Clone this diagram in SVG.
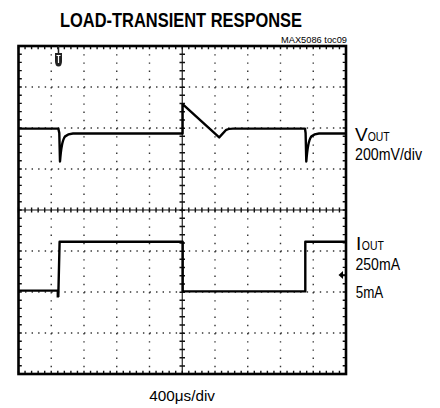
<svg xmlns="http://www.w3.org/2000/svg" width="440" height="408" viewBox="0 0 440 408">
<style>
.t{font-family:"Liberation Sans",Arial,sans-serif;fill:#000}
.v{stroke:#333;stroke-width:1.4;stroke-dasharray:1.4 6.8;fill:none}
.h{stroke:#333;stroke-width:1.4;stroke-dasharray:1.4 5.15;fill:none}
.tr{fill:none;stroke:#000;stroke-width:2.4;stroke-linejoin:round}
</style>
<rect width="440" height="408" fill="#fff"/>
<text class="t" x="60" y="26.7" font-size="19.5" font-weight="bold" textLength="242" lengthAdjust="spacingAndGlyphs">LOAD-TRANSIENT RESPONSE</text>
<text class="t" x="347" y="42.7" font-size="9.5" text-anchor="end" textLength="66" lengthAdjust="spacingAndGlyphs">MAX5086 toc09</text>
<g id="grid">
<g class="v">
<line x1="51.25" y1="46" x2="51.25" y2="374"/>
<line x1="84" y1="46" x2="84" y2="374"/>
<line x1="116.75" y1="46" x2="116.75" y2="374"/>
<line x1="149.5" y1="46" x2="149.5" y2="374"/>
<line x1="215" y1="46" x2="215" y2="374"/>
<line x1="247.75" y1="46" x2="247.75" y2="374"/>
<line x1="280.5" y1="46" x2="280.5" y2="374"/>
<line x1="313.25" y1="46" x2="313.25" y2="374"/>
</g>
<g class="h">
<line x1="18.5" y1="87" x2="346" y2="87"/>
<line x1="18.5" y1="128" x2="346" y2="128"/>
<line x1="18.5" y1="169" x2="346" y2="169"/>
<line x1="18.5" y1="251" x2="346" y2="251"/>
<line x1="18.5" y1="292" x2="346" y2="292"/>
<line x1="18.5" y1="333" x2="346" y2="333"/>
</g>
<g stroke="#111" fill="none">
<line x1="182.25" y1="46" x2="182.25" y2="374" stroke-width="1.1"/>
<line x1="182.25" y1="45.4" x2="182.25" y2="374" stroke-width="5.5" stroke-dasharray="1.5 6.7"/>
<line x1="18.5" y1="210" x2="346" y2="210" stroke-width="1.1"/>
<line x1="17.8" y1="210" x2="346" y2="210" stroke-width="5" stroke-dasharray="1.4 5.15"/>
<line x1="17.8" y1="47.8" x2="346" y2="47.8" stroke-width="3" stroke-dasharray="1.4 5.15"/>
<line x1="17.8" y1="372.2" x2="346" y2="372.2" stroke-width="3" stroke-dasharray="1.4 5.15"/>
<line x1="20.3" y1="45.3" x2="20.3" y2="374" stroke-width="3" stroke-dasharray="1.4 6.8"/>
<line x1="344.2" y1="45.3" x2="344.2" y2="374" stroke-width="3" stroke-dasharray="1.4 6.8"/>
</g>
<rect x="18.5" y="46" width="327.5" height="328" fill="none" stroke="#000" stroke-width="2.6"/>
</g>
<g id="markers">
<path d="M55,53 H62 V61 Q62,66.5 58.5,66.5 Q55,66.5 55,61 Z" fill="#222"/>
<line x1="58.5" y1="46" x2="58.5" y2="53" stroke="#222" stroke-width="1.5"/>
<path d="M56.5,55.5 H60.5 M58.5,55.5 V63" stroke="#fff" stroke-width="1.2" fill="none"/>
<path d="M338.5,275 L343,271 V279 Z" fill="#000"/>
<line x1="342" y1="275" x2="345" y2="275" stroke="#000" stroke-width="1.6"/>
</g>
<g id="traces">
<path class="tr" d="M18.5,128.6 H58.3 L59.3,133 L60,161.5 Q61.5,141 65,136.5 Q68,133.8 73,133.5 H182.6 V104.2 L219.2,137.4 L226,130 Q228,128.6 233,128.6 H305 L305.6,133 L306.3,161.5 Q307.8,141 311.3,136.5 Q314.3,133.8 319,133.5 H346"/>
<path class="tr" d="M18.5,290.6 H57.8 V297.5 M58.3,297 L59.6,241.8 H182.7 V291.4 H305.3 V241.8 H346"/>
</g>
<g id="labels">
<text class="t" x="355" y="141.3"><tspan font-size="19">V</tspan><tspan font-size="13.5" textLength="22" lengthAdjust="spacingAndGlyphs">OUT</tspan></text>
<text class="t" x="355" y="159.8" font-size="16" textLength="67" lengthAdjust="spacingAndGlyphs">200mV/div</text>
<text class="t" x="356" y="250.2"><tspan font-size="19">I</tspan><tspan font-size="13.5" dx="0.5" textLength="22" lengthAdjust="spacingAndGlyphs">OUT</tspan></text>
<text class="t" x="355.5" y="270" font-size="16" textLength="44.5" lengthAdjust="spacingAndGlyphs">250mA</text>
<text class="t" x="355.8" y="298.4" font-size="16" textLength="27.5" lengthAdjust="spacingAndGlyphs">5mA</text>
<text class="t" x="149.3" y="401" font-size="15" textLength="65.7" lengthAdjust="spacingAndGlyphs">400μs/div</text>
</g>
</svg>
